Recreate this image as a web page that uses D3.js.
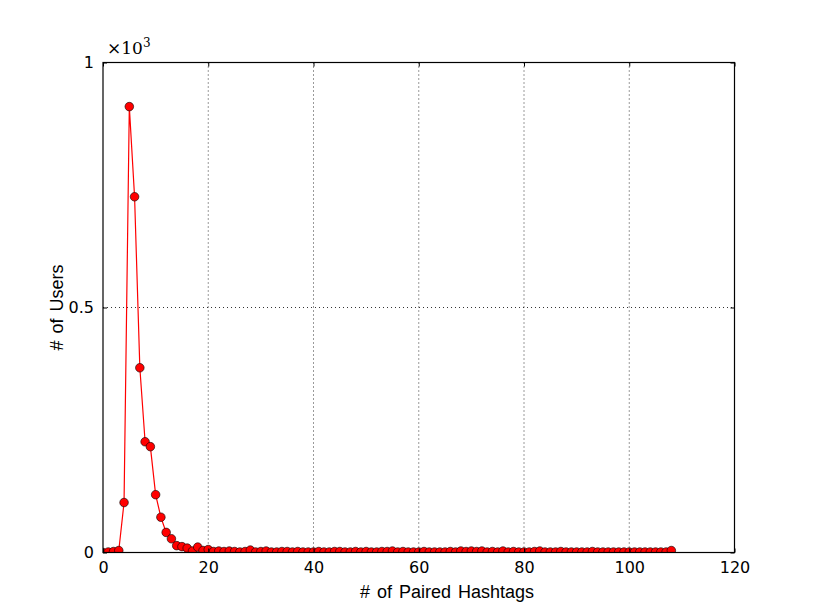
<!DOCTYPE html>
<html>
<head>
<meta charset="utf-8">
<script src="https://cdn.jsdelivr.net/npm/d3@7"></script>
<style>
  body { margin: 0; background: #fff; }
  svg { display: block; }
</style>
</head>
<body>
<svg id="chart" width="815" height="615"></svg>
<script>
// Data: # of paired hashtags (x) vs # of users (y)
const xValues = d3.range(0, 109);
const userCounts = [
  0, 1, 2, 4, 102, 910, 726, 377, 226, 216,
  118, 72, 41, 28, 14, 12, 9, 3, 11, 4,
  6, 2, 3, 2, 3, 2, 1, 2, 5, 1,
  2, 3, 1, 1, 2, 2, 1, 2, 1, 1,
  1, 2, 1, 1, 2, 2, 1, 1, 2, 1,
  2, 1, 1, 2, 2, 3, 1, 2, 1, 1,
  1, 2, 1, 1, 1, 1, 2, 1, 3, 2,
  3, 2, 3, 1, 2, 1, 3, 1, 2, 1,
  1, 1, 2, 3, 1, 1, 1, 2, 1, 1,
  1, 1, 1, 2, 1, 1, 1, 1, 1, 1,
  1, 1, 1, 1, 1, 1, 1, 1, 4
];
const xTicks = [0, 20, 40, 60, 80, 100, 120];
const yTicks = [0, 500, 1000];
const yTickLabels = ["0", "0.5", "1"];

const mLeft = 103, mRight = 734.5, mTop = 62.5, mBottom = 552.5;
const svg = d3.select("#chart");

const x = d3.scaleLinear().domain([0, 120]).range([mLeft, mRight]);
const y = d3.scaleLinear().domain([0, 1000]).range([mBottom, mTop]);

// grid lines
const grid = svg.append("g");
grid.selectAll("line.vx").data(xTicks.filter(t => t > 0 && t < 120)).enter()
  .append("line")
  .attr("x1", d => x(d)).attr("x2", d => x(d))
  .attr("y1", mTop).attr("y2", mBottom)
  .attr("stroke", "#000").attr("stroke-width", 0.8)
  .attr("stroke-dasharray", "1,3");
grid.selectAll("line.hy").data(yTicks.filter(t => t > 0 && t < 1000)).enter()
  .append("line")
  .attr("x1", mLeft).attr("x2", mRight)
  .attr("y1", d => y(d)).attr("y2", d => y(d))
  .attr("stroke", "#000").attr("stroke-width", 0.8)
  .attr("stroke-dasharray", "1,3");

// data line and markers (clipped to plot area)
svg.append("clipPath").attr("id", "clip")
  .append("rect").attr("x", mLeft).attr("y", mTop)
  .attr("width", mRight - mLeft).attr("height", mBottom - mTop);

const data = xValues.map((v, i) => ({ x: v, y: userCounts[i] }));
const plot = svg.append("g").attr("clip-path", "url(#clip)");
plot.append("path")
  .datum(data)
  .attr("fill", "none")
  .attr("stroke", "#ff0000")
  .attr("stroke-width", 1.2)
  .attr("d", d3.line().x(d => x(d.x)).y(d => y(d.y)));
plot.selectAll("circle").data(data).enter()
  .append("circle")
  .attr("cx", d => x(d.x)).attr("cy", d => y(d.y))
  .attr("r", 4.3)
  .attr("fill", "#ff0000")
  .attr("stroke", "#000").attr("stroke-width", 0.6);

// axes (ticks inside, on all sides)
const xAxisB = d3.axisBottom(x).tickValues(xTicks).tickSizeInner(-4).tickSizeOuter(0).tickPadding(9).tickFormat(d3.format("d"));
const xAxisT = d3.axisTop(x).tickValues(xTicks).tickSizeInner(-4).tickSizeOuter(0).tickFormat("");
const yAxisL = d3.axisLeft(y).tickValues(yTicks).tickSizeInner(-4).tickSizeOuter(0).tickPadding(9).tickFormat((d, i) => yTickLabels[i]);
const yAxisR = d3.axisRight(y).tickValues(yTicks).tickSizeInner(-4).tickSizeOuter(0).tickFormat("");

function styleAxis(g) {
  g.select(".domain").remove();
  g.selectAll("line").attr("stroke", "#000").attr("stroke-width", 1);
  g.selectAll("text").attr("fill", "#000")
    .style("font-family", "'DejaVu Sans', sans-serif").style("font-size", "16px");
}
svg.append("g").attr("transform", `translate(0,${mBottom})`).call(xAxisB).call(styleAxis);
svg.append("g").attr("transform", `translate(0,${mTop})`).call(xAxisT).call(styleAxis);
svg.append("g").attr("transform", `translate(${mLeft},0)`).call(yAxisL).call(styleAxis);
svg.append("g").attr("transform", `translate(${mRight},0)`).call(yAxisR).call(styleAxis);

// frame
svg.append("rect").attr("x", mLeft).attr("y", mTop)
  .attr("width", mRight - mLeft).attr("height", mBottom - mTop)
  .attr("fill", "none").attr("stroke", "#000").attr("stroke-width", 1.2);

// offset text ×10^3
const off = svg.append("text").attr("x", mLeft + 4).attr("y", mTop - 9)
  .style("font-family", "'DejaVu Serif', serif").style("font-size", "17px").attr("fill", "#000");
off.append("tspan").text("×10");
off.append("tspan").attr("dy", -7).style("font-size", "12px").text("3");

// axis labels
svg.append("text").attr("x", 447).attr("y", 598)
  .attr("text-anchor", "middle")
  .style("font-family", "'Liberation Sans', Arial, sans-serif").style("font-size", "18px")
  .style("word-spacing", "2px")
  .text("# of Paired Hashtags");
svg.append("text")
  .attr("transform", `translate(63,${(mTop + mBottom) / 2}) rotate(-90)`)
  .attr("text-anchor", "middle")
  .style("font-family", "'Liberation Sans', Arial, sans-serif").style("font-size", "18px")
  .style("word-spacing", "2px")
  .text("# of Users");
</script>
</body>
</html>
